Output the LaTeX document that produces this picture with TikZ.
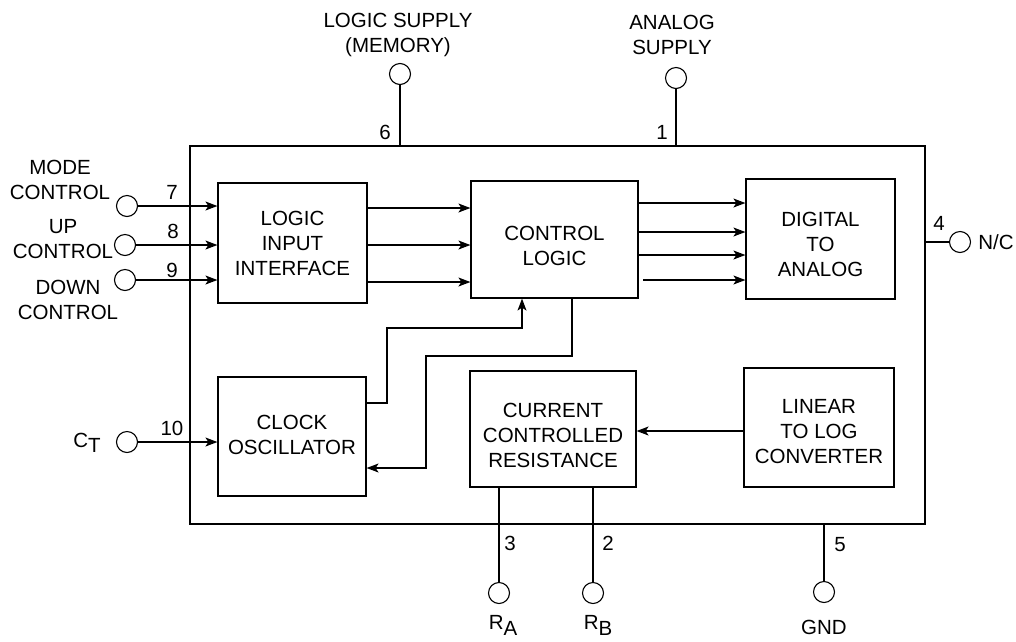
\documentclass[tikz,border=0pt]{standalone}
\usepackage{fontspec}
\setmainfont{Liberation Sans}
\usetikzlibrary{arrows.meta}
\begin{document}
\begin{tikzpicture}[x=1pt,y=-1pt,
  every node/.style={font=\fontsize{20.5}{25}\selectfont, align=center, inner sep=0pt},
  blk/.style={draw, line width=1.2pt, inner sep=0pt},
  pin/.style={draw, circle, minimum size=21pt, line width=1.1pt},
  wire/.style={line width=1.2pt},
  arr/.style={wire, -{Stealth[length=12pt,width=9pt,inset=3pt]}}]
\useasboundingbox (0,0) rectangle (1016,641);
% outer chip
\node[blk, minimum width=735pt, minimum height=378pt] (chip) at (557.5,335) {};
% blocks
\node[blk, minimum width=149pt, minimum height=120pt] (lii) at (292.5,243) {LOGIC\\INPUT\\INTERFACE};
\node[blk, minimum width=167pt, minimum height=117pt,
  label={[yshift=-6pt]center:{CONTROL\\LOGIC}}] (ctl) at (554.5,239.5) {};
\node[blk, minimum width=149pt, minimum height=120pt,
  label={[yshift=-5pt]center:{DIGITAL\\TO\\ANALOG}}] (da) at (820.5,239) {};
\node[blk, minimum width=148pt, minimum height=119pt,
  label={[yshift=2pt]center:{CLOCK\\OSCILLATOR}}] (clk) at (292,436.5) {};
\node[blk, minimum width=166pt, minimum height=116pt,
  label={[yshift=-6pt]center:{CURRENT\\CONTROLLED\\RESISTANCE}}] (ccr) at (553,429) {};
\node[blk, minimum width=150pt, minimum height=119pt,
  label={[yshift=-4pt]center:{LINEAR\\TO LOG\\CONVERTER}}] (ltl) at (819,427.5) {};
% pins
\node[pin] (p6) at (400,74) {};
\node[pin] (p1) at (676,78) {};
\node[pin] (p7) at (127,206) {};
\node[pin] (p8) at (125,245) {};
\node[pin] (p9) at (125,280) {};
\node[pin] (p10) at (127,442) {};
\node[pin] (p4) at (960,242) {};
\node[pin] (p3) at (499,593) {};
\node[pin] (p2) at (593,593) {};
\node[pin] (p5) at (824,592) {};
% pin wires
\draw[wire] (p6.south) -- (p6.south |- chip.north);
\draw[wire] (p1.south) -- (p1.south |- chip.north);
\draw[arr] (p7.east) -- (p7.east -| lii.west);
\draw[arr] (p8.east) -- (p8.east -| lii.west);
\draw[arr] (p9.east) -- (p9.east -| lii.west);
\draw[arr] (p10.east) -- (p10.east -| clk.west);
\draw[wire] (chip.east |- p4) -- (p4.west);
\draw[wire] (ccr.south -| p3) -- (p3.north);
\draw[wire] (ccr.south -| p2) -- (p2.north);
\draw[wire] (chip.south -| p5) -- (p5.north);
% internal connections
\foreach \yy in {208,245,282} \draw[arr] (lii.east |- 0,\yy) -- (ctl.west |- 0,\yy);
\foreach \yy in {203,232,255} \draw[arr] (ctl.east |- 0,\yy) -- (da.west |- 0,\yy);
\coordinate (s4) at (643,280);
\draw[arr] (s4) -- (da.west |- s4);
\draw[arr] (clk.east |- 0,403) -- (387,403) -- (387,328) -- (522,328) -- (ctl.south -| 522,0);
\draw[arr] (ctl.south -| 572,0) -- (572,356) -- (426,356) -- (426,468) -- (clk.east |- 0,468);
\draw[arr] (ltl.west |- 0,431) -- (ccr.east |- 0,431);
% labels
\node (t6) at (398,35) {LOGIC SUPPLY\\(MEMORY)};
\node (t1) at (672,35) {ANALOG\\SUPPLY};
\node (t7) at (60,180) {MODE\\CONTROL};
\node (t8) at (63,239) {UP\\CONTROL};
\node (t9) at (68,300) {DOWN\\CONTROL};
\node (tct) at (87,443) {C\raisebox{-5pt}{T}};
\node (t4) at (996,242) {N/C};
\node (t3) at (503,625) {R\raisebox{-6pt}{A}};
\node (t2) at (598,625) {R\raisebox{-6pt}{B}};
\node (t5) at (824,627) {GND};
% pin numbers
\node (n7) at (172,192) {7};
\node (n8) at (173,231) {8};
\node (n9) at (172,270) {9};
\node (n10) at (172,428) {10};
\node (n6) at (385,132) {6};
\node (n1) at (662,132) {1};
\node (n4) at (939,223) {4};
\node (n3) at (510,543) {3};
\node (n2) at (608,543) {2};
\node (n5) at (840,545) {5};
\end{tikzpicture}
\end{document}
